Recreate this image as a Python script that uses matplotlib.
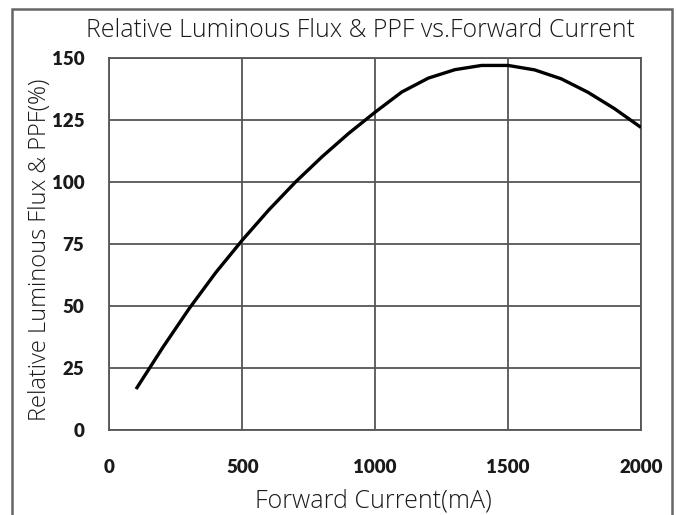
import numpy as np
import matplotlib
matplotlib.use("Agg")
import matplotlib.pyplot as plt
from matplotlib.patches import Rectangle

# data
current_ma = [100, 200, 300, 400, 500, 600, 700, 800, 900, 1000,
              1100, 1200, 1300, 1400, 1500, 1600, 1700, 1800, 1900, 2000]
rel_flux = [16.5, 33.2, 49, 63.5, 76.6, 88.8, 100, 110.2, 119.6, 128.2,
            136.3, 141.9, 145.3, 147, 147, 145.2, 141.6, 136.2, 129.6, 122]
x_ticks = [0, 500, 1000, 1500, 2000]
y_ticks = [0, 25, 50, 75, 100, 125, 150]

TITLE = "Relative Luminous Flux & PPF vs.Forward Current"
XLABEL = "Forward Current(mA)"
YLABEL = "Relative Luminous Flux & PPF(%)"

W, H = 677, 515
THIN = dict(family="Open Sans", weight="light", color="#1a1a1a")
GRID = "#555555"


def main():
    fig = plt.figure(figsize=(W / 100, H / 100), dpi=100)
    fig.patch.set_facecolor("white")

    # outer frame around the whole chart (runs off the bottom edge)
    frame = Rectangle((12 / W, -0.05), (672 - 12) / W, 1.05 - 9 / H,
                      transform=fig.transFigure, fill=False,
                      edgecolor="#666666", linewidth=1.8, clip_on=False)
    fig.patches.append(frame)

    ax = fig.add_axes([109.5 / W, 85 / H, 531.5 / W, 372 / H])
    ax.plot(current_ma, rel_flux, color="black", linewidth=2.4,
            solid_capstyle="butt", solid_joinstyle="round", zorder=3)

    ax.set_xlim(0, 2000)
    ax.set_ylim(0, 150)
    ax.set_xticks(x_ticks)
    ax.set_yticks(y_ticks)
    ax.grid(True, color=GRID, linewidth=1.3)
    for s in ax.spines.values():
        s.set_color(GRID)
        s.set_linewidth(1.3)
    ax.tick_params(length=0, labelsize=13.5, labelcolor="#1a1a1a")
    ax.tick_params(axis="x", pad=21)
    ax.tick_params(axis="y", pad=18)
    for lab in ax.get_xticklabels() + ax.get_yticklabels():
        lab.set_fontfamily("Lato")
        lab.set_fontweight("heavy")

    fig.text(360 / W, 1 - 37 / H, TITLE, ha="center", va="baseline",
             fontsize=17.9, **THIN)
    fig.text(373 / W, 1 - 508 / H, XLABEL, ha="center", va="baseline",
             fontsize=18, **THIN)
    fig.text(40 / W, 1 - 250 / H, YLABEL, ha="center", va="center",
             rotation=90, fontsize=17, **THIN)

    fig.savefig("out.png", dpi=100)
    plt.close(fig)


if __name__ == "__main__":
    main()
